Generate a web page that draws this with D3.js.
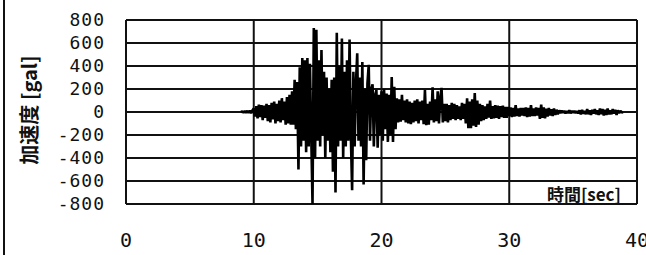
<!DOCTYPE html>
<html>
<head>
<meta charset="utf-8">
<script src="https://cdn.jsdelivr.net/npm/d3@7"></script>
<style>
  html, body { margin: 0; padding: 0; background: #fff; }
  svg { display: block; }
  .tick-y { font-family: "DejaVu Sans Mono", monospace; font-size: 18px; }
  .tick-x { font-family: "DejaVu Sans Mono", monospace; font-size: 20px; }
  .title { font-family: "Noto Sans CJK JP", sans-serif; font-size: 20px; font-weight: bold; }
  .unit { font-family: "Noto Sans CJK JP", sans-serif; font-size: 17px; font-weight: bold; }
</style>
</head>
<body>
<svg id="chart" width="646" height="255"></svg>
<script>
// ── Data ─────────────────────────────────────────────────────────────────────

const xTicks = [0, 10, 20, 30, 40];
const yTicks = [800, 600, 400, 200, 0, -200, -400, -600, -800];

const startTime = 9.0; // sec, first sample
const step = 0.1;      // sec between samples

// acceleration [gal] at 0.1 s steps
const accel = [
  // 9 - 10
  0, 5, -5, 8, -6, 10, -8, 12, -10, 15,
  // 10 - 11
  30, -40, 50, -55, 65, -45, 60, -70, 55, -50,
  // 11 - 12
  70, -80, 60, -90, 80, -65, 90, -100, 70, -80,
  // 12 - 13
  100, -90, 120, -70, 90, -110, 130, -100, 150, -110,
  // 13 - 14
  180, -110, 280, -150, 260, -500, 390, -300, 470, -250,
  // 14 - 15
  450, -350, 470, -300, 420, -200, -800, 730, -400, 715,
  // 15 - 16
  -250, 450, -300, 540, -200, 350, -400, 300, -250, 200,
  // 16 - 17
  -350, 280, -520, 300, -700, 690, -300, 400, -250, 640,
  // 17 - 18
  -400, 350, -300, 450, -250, 630, -200, -680, 350, -300,
  // 18 - 19
  250, 510, -250, 300, -300, 435, -630, 200, -420, 250,
  // 19 - 20
  410, -250, 200, 240, -300, 150, 190, -310, 150, -200,
  // 20 - 21
  180, -250, 200, -150, 160, -260, 150, -200, 305, -260,
  // 21 - 22
  220, -150, 120, -90, 110, -85, 150, -70, 100, -90,
  // 22 - 23
  110, -100, 90, -105, 80, -90, 100, -80, 110, -100,
  // 23 - 24
  90, -70, 100, -105, 190, -115, 70, -110, 90, -70,
  // 24 - 25
  215, -90, 110, -80, 180, -100, 120, 210, -90, 70,
  // 25 - 26
  -80, 70, -90, 60, -70, 80, -60, 70, -70, 60,
  // 26 - 27
  -60, 50, -70, 80, -60, 70, -100, 120, -140, 90,
  // 27 - 28
  -140, 110, -120, 165, -130, 100, -110, 70, -80, 60,
  // 28 - 29
  -70, 50, -60, 70, -50, 100, -60, 50, -55, 60,
  // 29 - 30
  -50, 55, -60, 50, -45, 55, -50, 45, -50, 45,
  // 30 - 31
  -35, 40, -45, 35, -40, 60, -35, 30, -40, 35,
  // 31 - 32
  -30, 35, -35, 40, -45, 35, -40, 60, -35, 30,
  // 32 - 33
  -35, 40, -30, 35, -60, 65, -50, 40, -55, 30,
  // 33 - 34
  -40, 35, -30, 25, -35, 30, -25, 20, -20, 15,
  // 34 - 35
  -10, 12, -8, 10, -12, 8, -10, 15, -12, 10,
  // 35 - 36
  -8, 10, -10, 8, -12, 15, -20, 18, -15, 10,
  // 36 - 37
  -20, 25, -20, 15, -25, 20, -15, 25, -20, 15,
  // 37 - 38
  -25, 30, -20, 25, -30, 20, -25, 30, -20, 15,
  // 38 - 39
  -20, 25, -15, 20, -25, 15, -10, 10, -5, 0
];

// ── Layout ───────────────────────────────────────────────────────────────────

const svg = d3.select("#chart");
const plot = { left: 126, right: 637, top: 20, bottom: 204 };

const x = d3.scaleLinear().domain([0, 40]).range([plot.left, plot.right]);
const y = d3.scaleLinear().domain([-800, 800]).range([plot.bottom, plot.top]);

// outer frame edge on the left
svg.append("line")
  .attr("x1", 4).attr("x2", 4).attr("y1", 0).attr("y2", 255)
  .attr("stroke", "#111").attr("stroke-width", 2);

// ── Grid ─────────────────────────────────────────────────────────────────────

svg.append("g")
  .selectAll("line")
  .data(yTicks)
  .join("line")
  .attr("x1", plot.left).attr("x2", plot.right)
  .attr("y1", (d) => y(d)).attr("y2", (d) => y(d))
  .attr("stroke", "#111").attr("stroke-width", 2);

svg.append("g")
  .selectAll("line")
  .data(xTicks)
  .join("line")
  .attr("x1", (d) => x(d)).attr("x2", (d) => x(d))
  .attr("y1", plot.top).attr("y2", plot.bottom)
  .attr("stroke", "#111").attr("stroke-width", 2);

// ── Waveform ─────────────────────────────────────────────────────────────────

const line = d3.line()
  .x((d, i) => x(startTime + i * step))
  .y((d) => y(d));

svg.append("path")
  .datum(accel)
  .attr("fill", "none")
  .attr("stroke", "#000")
  .attr("stroke-width", 2.6)
  .attr("stroke-linejoin", "bevel")
  .attr("d", line);

// ── Axes labels ──────────────────────────────────────────────────────────────

svg.append("g")
  .selectAll("text")
  .data(yTicks)
  .join("text")
  .attr("class", "tick-y")
  .attr("x", 105)
  .attr("y", (d) => y(d))
  .attr("dy", "0.36em")
  .attr("text-anchor", "end")
  .attr("letter-spacing", 1)
  .attr("fill", "#111")
  .text((d) => d);

svg.append("g")
  .selectAll("text")
  .data(xTicks)
  .join("text")
  .attr("class", "tick-x")
  .attr("x", (d) => x(d))
  .attr("y", 247)
  .attr("text-anchor", "middle")
  .attr("fill", "#111")
  .text((d) => d);

svg.append("text")
  .attr("class", "title")
  .attr("transform", "translate(37,110) rotate(-90)")
  .attr("text-anchor", "middle")
  .attr("fill", "#111")
  .text("加速度 [gal]");

svg.append("text")
  .attr("class", "unit")
  .attr("x", 621)
  .attr("y", 201)
  .attr("text-anchor", "end")
  .attr("fill", "#111")
  .text("時間[sec]");
</script>
</body>
</html>
